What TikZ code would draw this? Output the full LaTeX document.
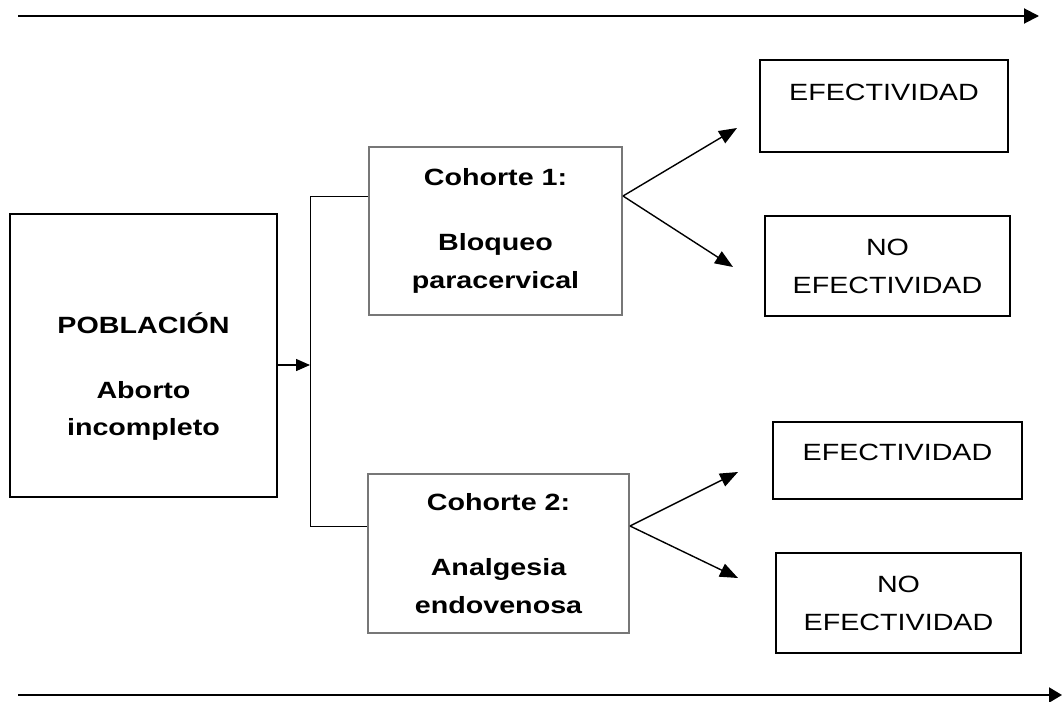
\documentclass[tikz,border=0pt]{standalone}
\usepackage{fontspec}
\setmainfont{Liberation Sans}[FakeStretch=1.22]
\usetikzlibrary{arrows.meta}
\definecolor{cohgray}{HTML}{777777}
\begin{document}
\begin{tikzpicture}[x=1pt, y=-1pt,
        box/.style={draw, line width=2pt, rectangle, align=center, inner sep=0pt},
        cohbox/.style={box, draw=cohgray, font=\fontsize{23.5}{38}\selectfont\bfseries},
        txt/.style={font=\fontsize{23.5}{38}\selectfont},
        arr/.style={-{Triangle[length=18pt, width=14pt]}, line width=1.4pt}]
    \useasboundingbox (0,0) rectangle (1062,701);
    \tikzset{every node/.append style={txt}}
    \node[box, minimum width=267pt, minimum height=283pt] (pob) at (143.5,355.5) {};
    \node[align=center, font=\fontsize{23.5}{37}\selectfont\bfseries] (pobtxt) at (143.5,377) {POBLACIÓN\\[28pt]Aborto\\incompleto};
    \node[cohbox, minimum width=253pt, minimum height=168pt] (c1) at (495.5,231) {Cohorte 1:\\[27pt]Bloqueo\\paracervical};
    \node[cohbox, minimum width=261pt, minimum height=159pt] (c2) at (498.5,553.5) {Cohorte 2:\\[27pt]Analgesia\\endovenosa};
    \node[box, minimum width=248pt, minimum height=92pt, text depth=28pt] (ef1) at (884,106) {EFECTIVIDAD};
    \node[box, minimum width=245pt, minimum height=100pt] (nef1) at (887.5,266) {NO\\EFECTIVIDAD};
    \node[box, minimum width=249pt, minimum height=77pt, text depth=16pt] (ef2) at (897.5,460.5) {EFECTIVIDAD};
    \node[box, minimum width=245pt, minimum height=100pt] (nef2) at (898.5,603) {NO\\EFECTIVIDAD};
    \coordinate (j1) at (310,196);
    \coordinate (j2) at (310,526);
    \coordinate (jm) at (310,365);
    \coordinate (ef1in) at (737,128);
    \coordinate (nef1in) at (733,267);
    \coordinate (ef2in) at (738,472);
    \coordinate (nef2in) at (738,578);
    \coordinate (tl) at (18,16);
    \coordinate (tr) at (1039,16);
    \coordinate (bl) at (18,695);
    \coordinate (br) at (1062,695);
    \draw[line width=1pt] (c1.west |- j1) -- (j1) -- (j2) -- (c2.west |- j2);
    \draw[-{Triangle[length=14pt, width=12pt]}, line width=1.4pt] (pob.east |- jm) -- (jm);
    \draw[arr] (c1.east |- j1) -- (ef1in);
    \draw[arr] (c1.east |- j1) -- (nef1in);
    \draw[arr] (c2.east |- j2) -- (ef2in);
    \draw[arr] (c2.east |- j2) -- (nef2in);
    \draw[-{Triangle[length=15pt, width=15pt]}, line width=2pt] (tl) -- (tr);
    \draw[-{Triangle[length=13pt, width=15pt]}, line width=2pt] (bl) -- (br);
\end{tikzpicture}
\end{document}
